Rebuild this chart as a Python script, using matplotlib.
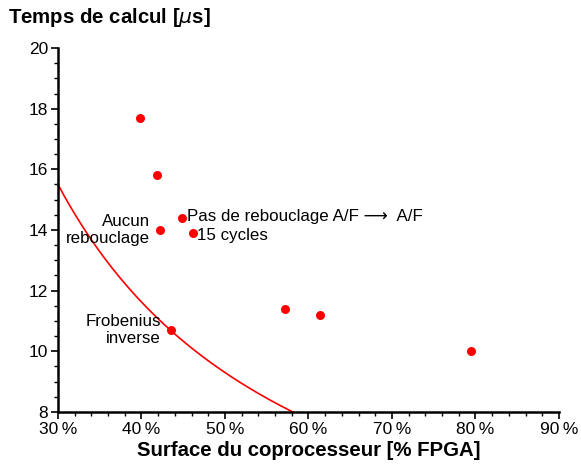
import numpy as np
import matplotlib.pyplot as plt
from matplotlib.ticker import MultipleLocator, FuncFormatter

plt.rcParams['font.family'] = ['Liberation Sans', 'DejaVu Sans']

# measured points (surface %, time us)
surface = [39.8, 41.9, 44.8, 42.2, 46.2, 43.5, 57.2, 61.4, 79.5]
temps = [17.7, 15.8, 14.4, 14.0, 13.9, 10.7, 11.4, 11.2, 10.0]

# constant area x time product curve
produit = 465.0

fig = plt.figure(figsize=(5.81, 4.73), dpi=100)
ax = fig.add_axes([0.0998, 0.129, 0.8623, 0.7695])

x_curve = np.linspace(30, produit / 8, 200)
ax.plot(x_curve, produit / x_curve, color='red', lw=1.2, clip_on=False, zorder=2)
ax.scatter(surface, temps, s=42, color='red', zorder=3, clip_on=False, linewidths=0)

ax.set_xlim(30, 90)
ax.set_ylim(8, 20)
for s in ['top', 'right']:
    ax.spines[s].set_visible(False)
for s in ['left', 'bottom']:
    ax.spines[s].set_linewidth(1.8)

ax.xaxis.set_major_locator(MultipleLocator(10))
ax.xaxis.set_minor_locator(MultipleLocator(2))
ax.yaxis.set_major_locator(MultipleLocator(2))
ax.yaxis.set_minor_locator(MultipleLocator(0.5))
ax.xaxis.set_major_formatter(FuncFormatter(lambda v, p: f"{v:.0f}\u2009%"))
ax.tick_params(which='major', length=5, width=1.2, labelsize=12.5, pad=2)
ax.tick_params(which='minor', length=3, width=1)

ax.set_xlabel('Surface du coprocesseur [% FPGA]', fontsize=14.7, fontweight='bold', labelpad=3)
fig.text(0.014, 0.962, r'Temps de calcul [$\mu$s]', fontsize=14.7, fontweight='bold', va='center')

fs = 12.2
ax.annotate('Aucun\nrebouclage', (42.2, 14.0), xytext=(-7, 0), textcoords='offset points',
            ha='right', va='center', fontsize=fs, multialignment='right', linespacing=1.1)
ax.annotate('Pas de rebouclage A/F \u27F6  A/F', (44.8, 14.4), xytext=(4, 1),
            textcoords='offset points', ha='left', va='center', fontsize=fs)
ax.annotate('15 cycles', (46.2, 13.9), xytext=(3, -1.5), textcoords='offset points',
            ha='left', va='center', fontsize=fs)
ax.annotate('Frobenius\ninverse', (43.5, 10.7), xytext=(-7, 0), textcoords='offset points',
            ha='right', va='center', fontsize=fs, multialignment='right', linespacing=1.1)

fig.savefig('out.png', dpi=100)
